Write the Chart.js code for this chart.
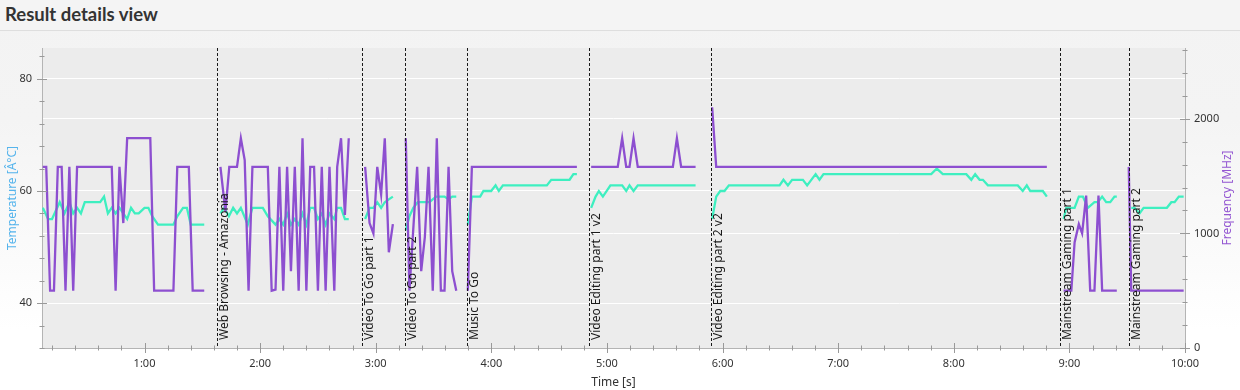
<!DOCTYPE html>
<html>
<head>
<meta charset="utf-8">
<script src="https://cdn.jsdelivr.net/npm/chart.js@4.4.1/dist/chart.umd.min.js"></script>
<style>
  html, body { margin: 0; padding: 0; }
  body {
    width: 1240px; height: 390px; overflow: hidden; position: relative;
    background: linear-gradient(to bottom, #f3f3f3 0px, #f4f4f4 120px, #fbfbfb 260px, #ffffff 330px);
  }
  #title {
    position: absolute; left: 0; top: 0; width: 1240px; height: 31px;
    border-bottom: 1px solid #dedede; background: #f4f4f4;
    font: bold 18.5px Lato, "Open Sans", sans-serif; color: #333;
    line-height: 28px; padding-left: 5px; box-sizing: border-box; z-index: 2;
  }
  #wrap { position: absolute; left: 0; top: 0; width: 1240px; height: 390px; }
</style>
</head>
<body>
<div id="title">Result details view</div>
<div id="wrap"><canvas id="myChart" width="1240" height="390"></canvas></div>
<script>
// test sections (start time in s)
const sectionStarts = [97.6, 173.1, 195.4, 227.4, 290.8, 353.9, 535, 570.8];
const sectionNames = [
  "Web Browsing - Amazonia",
  "Video To Go part 1",
  "Video To Go part 2",
  "Music To Go",
  "Video Editing part 1 v2",
  "Video Editing part 2 v2",
  "Mainstream Gaming part 1",
  "Mainstream Gaming part 2",
];

// frequency [MHz] — null = gap between sections
const freqTime = [
  7.2, 9, 11, 13, 15, 17, 19, 21, 23, 25, 43, 45, 47, 49, 51, 63, 65, 75, 77, 83, 85, 91,
  96.6,
  99.4, 102, 104, 108, 110, 112, 114, 116, 124, 126, 128, 130, 132, 134, 136, 138, 140, 142, 144, 146, 148, 150, 152, 154, 156, 158.5, 160, 162, 164, 166,
  172.1,
  174.5, 176.8, 178.8, 180.8, 182.8, 184.7, 186.8, 188.9,
  194.4,
  195.6, 197.5, 201.5, 203.6, 205.5, 207.4, 209.6, 211.7, 213.8, 215.7, 217.8, 219.7, 221.8,
  226.4,
  227.8, 229.9, 284.4,
  289.8,
  291.8, 305.6, 307.9, 310, 311.7, 313.8, 316, 334.2, 336.3, 338.5, 346,
  352.9,
  354.6, 356.7, 528.3,
  534,
  537, 541, 542.7, 544.9, 546.6, 548.7, 550.8, 553, 555.1, 557, 564.6,
  569.8,
  570.8, 572.1, 599.3,
];
const freqMHz = [
  1580, 1580, 500, 500, 1580, 1580, 500, 1580, 500, 1580, 1580, 500, 1580, 1090, 1830, 1830, 500, 500, 1580, 1580, 500, 500,
  null,
  1580, 1190, 1580, 1580, 1830, 1640, 500, 1580, 1580, 500, 510, 1580, 500, 1580, 670, 1580, 500, 1830, 500, 1580, 1580, 500, 1580, 500, 1580, 500, 1580, 1830, 1160, 1830,
  null,
  1580, 1090, 1000, 1580, 1340, 1830, 835, 1080,
  null,
  1830, 500, 1580, 670, 970, 1580, 500, 1830, 500, 500, 1580, 670, 500,
  null,
  500, 1580, 1580,
  null,
  1580, 1580, 1830, 1580, 1580, 1830, 1580, 1580, 1830, 1580, 1580,
  null,
  2100, 1580, 1580,
  null,
  500, 500, 920, 1080, 1000, 1330, 500, 500, 1330, 500, 500,
  null,
  1580, 500, 500,
];

// temperature [°C]
const tempTime = [
  7.2, 10, 12, 16, 18.5, 21, 23, 25, 27, 29, 37, 39, 41, 43, 45, 47, 49, 51, 53, 55, 57, 60, 62, 64, 67, 75, 77, 80, 82, 84, 91,
  96.6,
  99.4, 101.4, 103.8, 106, 108, 110, 113.6, 116, 121.4, 124, 128, 130, 132, 134, 136, 138, 140, 142, 144, 146, 148, 150, 152, 154, 156, 158.5, 160, 162, 164, 166,
  172.1,
  174.5, 176.8, 178.8, 180.8, 182.8, 184.7, 186.8, 188.9,
  194.4,
  195.6, 197.5, 199.5, 201.8, 207.9, 211.3, 215.7, 217.8, 219.7, 221.8,
  226.4,
  227.8, 229.9, 234.2, 235.9, 239.9, 242.2, 243.9, 246, 268.8, 271.1, 280.6, 282.6, 284.4,
  289.8,
  291.8, 294.1, 295.8, 297.9, 301.8, 307.9, 310, 311.7, 313.8, 316, 346,
  352.9,
  354.6, 356.7, 358.8, 361, 363.3, 389.6, 391.6, 393.9, 396.1, 401.7, 403.9, 408.3, 410.3, 412.4, 468.3, 471.2, 474.3, 486.5, 489.1, 491.1, 493.4, 495.1, 497.7, 513.2, 515.8, 517.9, 519.7, 526.2, 528.3,
  534,
  537, 538.4, 542.7, 544.9, 547, 549.6, 553, 554.8, 557, 559.1, 561.2, 563.4, 564.6,
  569.8,
  572.1, 573.8, 576.4, 578.5, 590.6, 592.9, 594.6, 596.8, 599.3,
];
const tempC = [
  57, 55, 55, 58, 56, 58, 56, 57, 56, 58, 58, 59, 56, 57, 56, 57, 56, 55, 57, 56, 56, 57, 57, 55.5, 54, 54, 55.5, 57, 57, 54, 54,
  null,
  56, 57, 55.5, 57, 56, 57, 54, 57, 57, 55.5, 54, 55, 54, 56, 54, 55, 54, 56, 54, 57, 57, 55, 56, 54, 56, 55, 57, 57, 55, 55,
  null,
  55, 57, 57, 58, 57, 58, 58.5, 59,
  null,
  53, 55.5, 57, 58, 58, 59, 59, 58.5, 59, 59,
  null,
  54, 59, 59, 60, 60, 61, 60, 61, 61, 62, 62, 63, 63,
  null,
  57, 59, 60, 59, 61, 61, 60, 61, 60, 61, 61,
  null,
  55, 59, 60, 60, 61, 61, 62, 61, 62, 62, 61, 63, 62, 63, 63, 64, 63, 63, 62, 63, 62, 62, 61, 61, 60, 61, 60, 60, 59,
  null,
  55, 57, 57, 59, 59, 57, 58, 58, 59, 58, 58, 59, 59,
  null,
  57, 57, 56, 57, 57, 58, 58, 59, 59,
];

// axis ranges / tick steps
const tempRange = [32, 85.5];
const freqRange = [0, 2617];
const freqStep = 200;

const FONT = '"Segoe UI", "Noto Sans", sans-serif';
Chart.defaults.font.family = FONT;
Chart.defaults.font.size = 11;
Chart.defaults.color = "#333";

function fmtTime(v) {
  const m = Math.floor(v / 60);
  const s = Math.round(v % 60);
  return m + ":" + String(s).padStart(2, "0");
}

// gray plot background
const plotBg = {
  id: "plotBg",
  beforeDraw(chart) {
    const { ctx, chartArea: a } = chart;
    ctx.save();
    ctx.fillStyle = "#ececec";
    ctx.fillRect(a.left, a.top, a.right - a.left, a.bottom - a.top);
    ctx.restore();
  },
};

// tick marks crossing the axis lines
function crossTicks(ctx, scale, edge, majorEvery, horizontal) {
  scale.ticks.forEach((tick) => {
    const p = Math.round(scale.getPixelForValue(tick.value)) + 0.5;
    const half = tick.value % majorEvery === 0 ? 5 : 2.5;
    ctx.beginPath();
    if (horizontal) {
      ctx.moveTo(p, edge - half);
      ctx.lineTo(p, edge + half);
    } else {
      ctx.moveTo(edge - half, p);
      ctx.lineTo(edge + half, p);
    }
    ctx.stroke();
  });
}

// section markers + axis decorations
const sections = {
  id: "sections",
  afterDatasetsDraw(chart) {
    const { ctx, chartArea: a, scales } = chart;
    ctx.save();
    ctx.strokeStyle = "#999";
    ctx.lineWidth = 1;
    crossTicks(ctx, scales.y, a.left, 20, false);
    crossTicks(ctx, scales.y2, a.right, 1000, false);
    crossTicks(ctx, scales.x, a.bottom, 60, true);

    ctx.setLineDash([3, 2]);
    ctx.strokeStyle = "#1a1a1a";
    sectionStarts.forEach((t, i) => {
      const px = Math.round(scales.x.getPixelForValue(t)) + 0.5;
      ctx.beginPath();
      ctx.moveTo(px, a.top);
      ctx.lineTo(px, a.bottom);
      ctx.stroke();
      ctx.save();
      ctx.translate(px + 1, a.bottom - 8);
      ctx.rotate(-Math.PI / 2);
      ctx.fillStyle = "#1a1a1a";
      ctx.font = "12px " + FONT;
      ctx.textBaseline = "top";
      ctx.fillText(sectionNames[i], 0, 0);
      ctx.restore();
    });
    ctx.setLineDash([]);

    // right axis title, reading upwards
    ctx.translate(1228, (a.top + a.bottom) / 2);
    ctx.rotate(-Math.PI / 2);
    ctx.fillStyle = "#9457d2";
    ctx.font = "12px " + FONT;
    ctx.textAlign = "center";
    ctx.textBaseline = "middle";
    ctx.fillText("Frequency [MHz]", 0, 0);
    ctx.restore();
  },
};

const ctx = document.getElementById("myChart").getContext("2d");
const myChart = new Chart(ctx, {
  type: "line",
  data: {
    datasets: [
      {
        label: "Frequency",
        data: freqTime.map((t, i) => ({ x: t, y: freqMHz[i] })),
        yAxisID: "y2",
        borderColor: "#8d4fd0",
        borderWidth: 2.3,
        pointRadius: 0,
        spanGaps: false,
      },
      {
        label: "Temperature",
        data: tempTime.map((t, i) => ({ x: t, y: tempC[i] })),
        yAxisID: "y",
        borderColor: "#3eefc0",
        borderWidth: 2.3,
        pointRadius: 0,
        spanGaps: false,
      },
    ],
  },
  options: {
    responsive: false,
    animation: false,
    layout: { padding: { top: 48, left: 0, right: 0, bottom: 0 } },
    plugins: { legend: { display: false }, tooltip: { enabled: false } },
    scales: {
      x: {
        type: "linear",
        min: 6.8,
        max: 600,
        afterFit: (s) => { s.height = 42; },
        ticks: {
          stepSize: 12,
          maxTicksLimit: 100,
          includeBounds: false,
          autoSkip: false,
          maxRotation: 0,
          padding: 9,
          callback: (v) => (v % 60 === 0 ? fmtTime(v) : ""),
        },
        grid: { color: "rgba(0,0,0,0)", drawTicks: false },
        border: { color: "#b4b4b4" },
        title: { display: true, text: "Time [s]", font: { size: 12 }, padding: { top: 0, bottom: 0 } },
      },
      y: {
        position: "left",
        min: tempRange[0],
        max: tempRange[1],
        afterFit: (s) => { s.width = 42; },
        ticks: {
          stepSize: 4,
          maxTicksLimit: 100,
          includeBounds: false,
          autoSkip: false,
          padding: 10,
          callback: (v) => (v % 20 === 0 ? v : ""),
        },
        grid: {
          drawTicks: false,
          color: (c) => (c.tick && c.tick.value % 20 === 0 ? "#ffffff" : "rgba(0,0,0,0)"),
        },
        border: { color: "#b4b4b4" },
        title: {
          display: true,
          text: "Temperature [Â°C]",
          color: "#55b4ec",
          font: { size: 12 },
          padding: { top: 5, bottom: 0 },
        },
      },
      y2: {
        position: "right",
        min: freqRange[0],
        max: freqRange[1],
        afterFit: (s) => { s.width = 55; },
        // fixed 200 MHz steps (the library would stretch them to fit the max)
        afterBuildTicks: (s) => {
          const ticks = [];
          for (let v = freqRange[0]; v <= freqRange[1]; v += freqStep) ticks.push({ value: v });
          s.ticks = ticks;
        },
        ticks: {
          autoSkip: false,
          padding: 9,
          callback: (v) => (v % 1000 === 0 ? v : ""),
        },
        grid: {
          drawTicks: false,
          color: (c) => (c.tick && c.tick.value % 1000 === 0 && c.tick.value > 0 ? "#ffffff" : "rgba(0,0,0,0)"),
        },
        border: { color: "#b4b4b4" },
      },
    },
  },
  plugins: [plotBg, sections],
});
</script>
</body>
</html>
